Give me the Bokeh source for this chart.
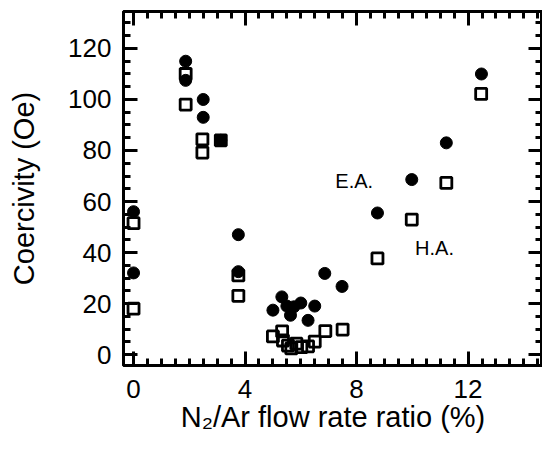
from bokeh.plotting import figure
from bokeh.models import LinearAxis, SingleIntervalTicker, Label
from bokeh.embed import file_html
from bokeh.resources import INLINE

# E.A. (easy axis) coercivity - filled circles
ea_x = [0.0, 0.0, 1.87, 1.87, 2.5, 2.5, 3.13, 3.76, 3.76,
        5.0, 5.32, 5.5, 5.63, 5.75, 6.0, 6.26, 6.5, 6.86, 7.48,
        8.75, 9.98, 11.22, 12.48]
ea_y = [56, 32, 115, 107.5, 100, 93, 84, 47, 32.5,
        17.4, 22.6, 19, 15.4, 18.7, 20.2, 13.4, 19, 31.8, 26.7,
        55.5, 68.6, 83, 110]

# H.A. (hard axis) coercivity - open squares
ha_x = [0.0, 0.0, 1.87, 1.87, 2.47, 2.47, 3.13, 3.76, 3.76,
        5.0, 5.33, 5.36, 5.54, 5.66, 5.84, 6.02, 6.26, 6.5, 6.88, 7.5,
        8.75, 9.98, 11.22, 12.47]
ha_y = [51.5, 18, 110, 98, 84.4, 79.2, 84, 31, 23,
        7.1, 9.1, 5.5, 3.5, 2.4, 4.3, 2.9, 3.2, 5.1, 9.2, 9.8,
        37.7, 52.9, 67.3, 102.2]

x_label = "N\u2082/Ar flow rate ratio (%)"
y_label = "Coercivity (Oe)"
FONT = "Liberation Sans"

p = figure(width=542, height=442, x_range=(-0.36, 14.67), y_range=(-4.3, 134.5),
           output_backend="svg", toolbar_location=None,
           min_border_left=123, min_border_right=0, min_border_top=11, min_border_bottom=77,
           x_axis_label=x_label, y_axis_label=y_label)
p.xgrid.visible = False
p.ygrid.visible = False
p.outline_line_color = "black"
p.outline_line_width = 3

def style(ax, show_labels):
    ax.axis_line_width = 3
    ax.axis_line_color = "black"
    ax.major_tick_in = 14
    ax.major_tick_out = 0
    ax.minor_tick_in = 7
    ax.minor_tick_out = 0
    ax.major_tick_line_width = 3
    ax.minor_tick_line_width = 3
    ax.major_tick_line_color = "black"
    ax.minor_tick_line_color = "black"
    if show_labels:
        ax.major_label_text_font = FONT
        ax.major_label_text_font_size = "26px"
        ax.major_label_text_color = "black"
        ax.axis_label_text_font = FONT
        ax.axis_label_text_font_size = "29px"
        ax.axis_label_text_font_style = "normal"
        ax.axis_label_text_color = "black"
    else:
        ax.major_label_text_font_size = "1px"
        ax.major_label_text_color = None
        ax.major_label_standoff = 0

p.xaxis.ticker = SingleIntervalTicker(interval=4, num_minor_ticks=8)
p.yaxis.ticker = SingleIntervalTicker(interval=20, num_minor_ticks=4)
style(p.xaxis[0], True)
style(p.yaxis[0], True)
p.xaxis.major_label_standoff = 14
p.yaxis.major_label_standoff = 12
p.xaxis.axis_label_standoff = 0
p.yaxis.axis_label_standoff = 25

top = LinearAxis(ticker=SingleIntervalTicker(interval=4, num_minor_ticks=8))
right = LinearAxis(ticker=SingleIntervalTicker(interval=20, num_minor_ticks=4))
style(top, False)
style(right, False)
p.add_layout(top, "above")
p.add_layout(right, "right")

p.scatter(ha_x, ha_y, marker="square", size=11, fill_color=None,
          line_color="black", line_width=2.8)
p.scatter(ea_x, ea_y, marker="circle", size=12, fill_color="black",
          line_color="black", line_width=1)

p.add_layout(Label(x=7.24, y=68.2, text="E.A.", text_baseline="middle",
                   text_font=FONT, text_font_size="20px", text_color="black"))
p.add_layout(Label(x=10.1, y=41.8, text="H.A.", text_baseline="middle",
                   text_font=FONT, text_font_size="20px", text_color="black"))

open("out.html", "w").write(file_html(p, INLINE))
